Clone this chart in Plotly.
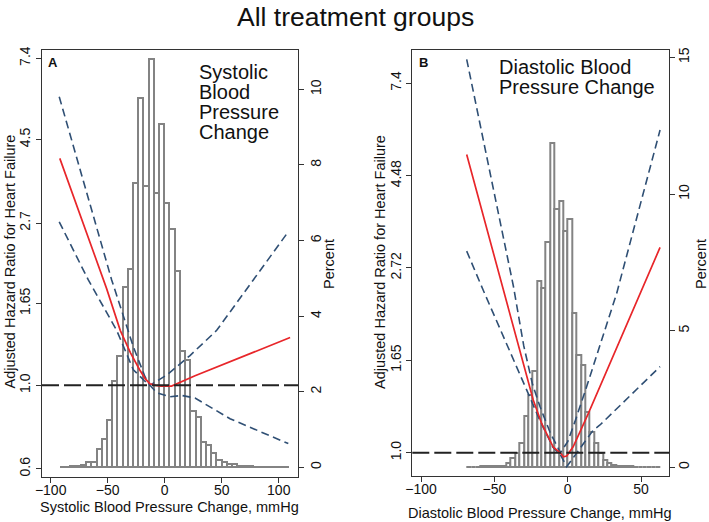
import numpy as np
import plotly.graph_objects as go

# ---------------- DATA ----------------
# Panel A: systolic BP change histogram (percent per bin)
sbp_bin_start = -91.8
sbp_bin_width = 4.57
sbp_pct = [0.02, 0.02, 0.03, 0.04, 0.06, 0.15, 0.15, 0.48, 0.76, 1.24,
           2.28, 2.94, 4.78, 5.25, 7.51, 9.78, 7.45, 10.79, 7.25, 9.08,
           6.98, 6.30, 5.19, 3.08, 2.84, 1.49, 1.34, 0.68, 0.59, 0.37,
           0.19, 0.15, 0.08, 0.08, 0.04, 0.03, 0.03, 0.02, 0.02, 0.02,
           0.02, 0.01, 0.01, 0.01]

# Panel A: hazard ratio curve and 95% CI
sbp_hr_x = [-92, -51, -39, -30, -22, -17, -13, -8, -3, 6, 26.6, 57.3, 110]
sbp_hr = [4.01, 1.81, 1.40, 1.22, 1.10, 1.04, 1.01, 1.0, 0.995, 0.995, 1.06, 1.156, 1.34]
sbp_up_x = [-92.5, -46.5, -27.5, -17.3, -13, 1.8, 22.2, 45.6, 77.7, 108.4]
sbp_up = [5.85, 1.906, 1.266, 1.054, 1.0, 1.065, 1.20, 1.40, 1.906, 2.56]
sbp_lo_x = [-92.5, -67, -42.1, -27.5, -18, -13, -7, 4.6, 15, 26.6, 57.3, 108.4]
sbp_lo = [2.72, 1.906, 1.40, 1.10, 1.03, 1.0, 0.956, 0.932, 0.94, 0.925, 0.815, 0.70]

# Panel B: diastolic BP change histogram (percent per bin)
dbp_bin_start = -68.86
dbp_bin_width = 2.994
dbp_pct = [0.02, 0.02, 0.02, 0.03, 0.03, 0.03, 0.04, 0.04, 0.06, 0.15,
           0.33, 0.51, 0.90, 1.88, 2.65, 3.52, 6.82, 6.57, 8.26, 11.88,
           9.44, 9.75, 8.66, 9.10, 5.66, 4.11, 3.74, 2.04, 1.30, 0.88,
           0.51, 0.27, 0.15, 0.08, 0.05, 0.04, 0.03, 0.03, 0.02, 0.02,
           0.02, 0.02, 0.02, 0.02]

# Panel B: hazard ratio curve and 95% CI
dbp_hr_x = [-68.9, -43.9, -23.5, -17.7, -9.8, -5, -3, -0.7, 3.8, 14.1, 35.7, 63]
dbp_hr = [5.03, 2.41, 1.33, 1.17, 1.03, 1.0, 0.978, 0.982, 1.034, 1.237, 1.84, 3.04]
dbp_up_x = [-68.9, -59.1, -37, -30, -24, -18.9, -12, -5, 0, 5, 13, 33.4, 63]
dbp_up = [8.42, 5.74, 2.46, 1.786, 1.448, 1.284, 1.116, 1.0, 1.062, 1.185, 1.433, 2.37, 5.74]
dbp_lo_x = [-68.9, -57.6, -28, -18.9, -10, -5, -0.7, 17.5, 22, 63]
dbp_lo = [2.98, 2.41, 1.405, 1.19, 1.03, 0.99, 0.927, 1.131, 1.162, 1.594]

# Tick labels
sbp_x_ticks = [-100, -50, 0, 50, 100]
dbp_x_ticks = [-100, -50, 0, 50]
sbp_hr_ticks = [0.6, 1.0, 1.65, 2.7, 4.5, 7.4]
sbp_hr_ticktext = ["0.6", "1.0", "1.65", "2.7", "4.5", "7.4"]
dbp_hr_ticks = [1.0, 1.65, 2.72, 4.48, 7.4]
dbp_hr_ticktext = ["1.0", "1.65", "2.72", "4.48", "7.4"]
sbp_pct_ticks = [0, 2, 4, 6, 8, 10]
dbp_pct_ticks = [0, 5, 10, 15]

# ---------------- FIGURE ----------------
W, H = 709, 522
FONT = "Liberation Sans, Arial, Helvetica, sans-serif"
RED = "#e8262a"
BLUE = "#2f4f74"
BARLINE = "#838383"
AXC = "#333333"


def px_x(p):
    return p / W


def px_y(p):
    return 1 - p / H


sbp_centers = sbp_bin_start + sbp_bin_width * (np.arange(len(sbp_pct)) + 0.5)
dbp_centers = dbp_bin_start + dbp_bin_width * (np.arange(len(dbp_pct)) + 0.5)

fig = go.Figure()

bar_style = dict(marker=dict(color="white", line=dict(color=BARLINE, width=2)),
                 showlegend=False, hoverinfo="skip")

fig.add_trace(go.Bar(x=sbp_centers, y=sbp_pct, width=sbp_bin_width,
                     xaxis="x", yaxis="y", **bar_style))
fig.add_trace(go.Bar(x=dbp_centers, y=dbp_pct, width=dbp_bin_width,
                     xaxis="x2", yaxis="y3", **bar_style))

ci_line = dict(color=BLUE, width=1.6, dash="8px,4.5px")
est_line = dict(color=RED, width=1.7)

for xs, ys, ln, xa, ya in [
    (sbp_up_x, sbp_up, ci_line, "x", "y2"),
    (sbp_lo_x, sbp_lo, ci_line, "x", "y2"),
    (sbp_hr_x, sbp_hr, est_line, "x", "y2"),
    (dbp_up_x, dbp_up, ci_line, "x2", "y4"),
    (dbp_lo_x, dbp_lo, ci_line, "x2", "y4"),
    (dbp_hr_x, dbp_hr, est_line, "x2", "y4"),
]:
    fig.add_trace(go.Scatter(x=xs, y=ys, mode="lines", line=ln,
                             xaxis=xa, yaxis=ya, showlegend=False))

# reference lines at HR = 1
for xref, yref in [("x domain", "y2"), ("x2 domain", "y4")]:
    fig.add_shape(type="line", xref=xref, yref=yref, x0=0, x1=1, y0=1, y1=1,
                  line=dict(color="#222222", width=2, dash="17px,5px"))

axis_common = dict(showgrid=False, zeroline=False, showline=True, linecolor=AXC,
                   linewidth=1.2, ticks="outside", ticklen=5, tickcolor=AXC,
                   tickwidth=1.2, tickfont=dict(family=FONT, size=14, color="#111"),
                   automargin=False)

ydomA = [px_y(477), px_y(50)]
ydomB = [px_y(476), px_y(50)]

fig.update_layout(
    width=W, height=H,
    margin=dict(l=0, r=0, t=0, b=0),
    paper_bgcolor="white", plot_bgcolor="white",
    bargap=0, barmode="overlay",
    font=dict(family=FONT, color="#111"),
    xaxis=dict(domain=[px_x(42), px_x(298)], range=[-107.6, 116.9], anchor="y",
               tickvals=sbp_x_ticks, mirror=True, ticklabelstandoff=-5, **axis_common),
    yaxis=dict(domain=ydomA, range=[-0.257, 11.04], anchor="x", side="right",
               tickvals=sbp_pct_ticks, tickangle=-90, **axis_common),
    yaxis2=dict(type="log", range=[np.log10(np.exp(-0.561)), np.log10(np.exp(2.052))],
                overlaying="y", side="left", anchor="x",
                tickvals=sbp_hr_ticks, ticktext=sbp_hr_ticktext, tickangle=-90,
                **axis_common),
    xaxis2=dict(domain=[px_x(412.3), px_x(669.3)], range=[-106, 69.3], anchor="y3",
                tickvals=dbp_x_ticks, mirror=True, ticklabelstandoff=-5, **axis_common),
    yaxis3=dict(domain=ydomB, range=[-0.32, 15.27], anchor="x2", side="right",
                tickvals=dbp_pct_ticks, tickangle=-90, ticklabelstandoff=-3,
                **axis_common),
    yaxis4=dict(type="log", range=[np.log10(np.exp(-0.126)), np.log10(np.exp(2.181))],
                overlaying="y3", side="left", anchor="x2",
                tickvals=dbp_hr_ticks, ticktext=dbp_hr_ticktext, tickangle=-90,
                **axis_common),
)

ann = []


def add_text(text, x, y, size, angle=0, xanchor="center", bold=False):
    ann.append(dict(text=f"<b>{text}</b>" if bold else text, x=px_x(x), y=px_y(y),
                    xref="paper", yref="paper", showarrow=False, textangle=angle,
                    xanchor=xanchor, yanchor="middle",
                    font=dict(family=FONT, size=size, color="#111")))


add_text("All treatment groups", 355, 17, 26.5)
add_text("Systolic Blood Pressure Change, mmHg", 169.5, 507, 14.5)
add_text("Diastolic Blood Pressure Change, mmHg", 540, 513, 14.5)
add_text("Adjusted Hazard Ratio for Heart Failure", 9.5, 262, 14.5, angle=-90)
add_text("Adjusted Hazard Ratio for Heart Failure", 380, 262, 14.5, angle=-90)
add_text("Percent", 329, 264, 14.5, angle=-90)
add_text("Percent", 701, 264, 14.5, angle=-90)
add_text("A", 53.5, 62.5, 13, bold=True)
add_text("B", 423, 62, 13, bold=True)
for i, line in enumerate(["Systolic", "Blood", "Pressure", "Change"]):
    add_text(line, 196.7, 72 + 20 * i, 20, xanchor="left")
for i, line in enumerate(["Diastolic Blood", "Pressure Change"]):
    add_text(line, 496.7, 67 + 20 * i, 20, xanchor="left")

fig.update_layout(annotations=ann)

fig.write_html("out.html", config={"displayModeBar": False},
               post_script="document.body.style.margin='0';document.body.style.padding='0';")
